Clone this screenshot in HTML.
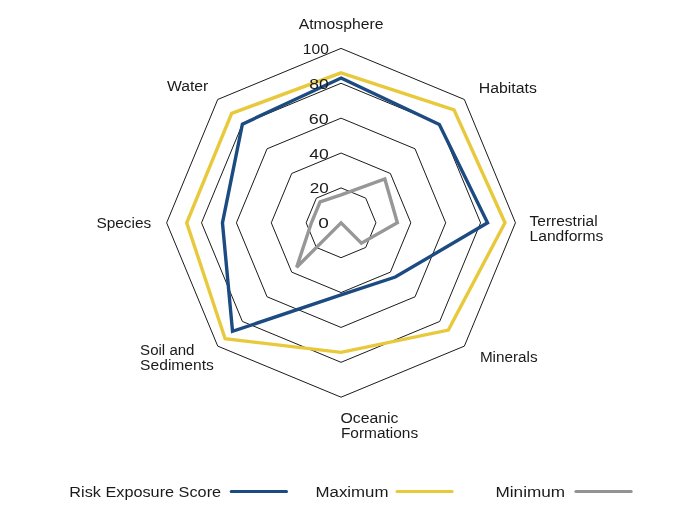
<!DOCTYPE html>
<html><head><meta charset="utf-8"><style>
html,body{margin:0;padding:0;background:#fff;}
svg{display:block;will-change:transform;}
text{font-family:"Liberation Sans",sans-serif;font-size:14px;fill:#1a1a1a;}
</style></head><body>
<svg width="700" height="512" viewBox="0 0 700 512">
<g fill="none" stroke="#1a1a1a" stroke-width="1"><polygon points="341.05,187.92 365.71,198.14 375.93,222.80 365.71,247.46 341.05,257.68 316.39,247.46 306.17,222.80 316.39,198.14" /><polygon points="341.05,153.04 390.38,173.47 410.81,222.80 390.38,272.13 341.05,292.56 291.72,272.13 271.29,222.80 291.72,173.47" /><polygon points="341.05,118.16 415.04,148.81 445.69,222.80 415.04,296.79 341.05,327.44 267.06,296.79 236.41,222.80 267.06,148.81" /><polygon points="341.05,83.28 439.71,124.14 480.57,222.80 439.71,321.46 341.05,362.32 242.39,321.46 201.53,222.80 242.39,124.14" /><polygon points="341.05,48.40 464.37,99.48 515.45,222.80 464.37,346.12 341.05,397.20 217.73,346.12 166.65,222.80 217.73,99.48" /></g>
<polygon points="341.05,72.82 454.01,109.84 504.99,222.80 448.34,330.09 341.05,352.38 225.13,338.72 186.71,222.80 231.67,113.42" fill="none" stroke="#e8c93c" stroke-width="3.4" stroke-linejoin="miter"/>
<polygon points="341.05,78.05 439.34,124.51 487.55,222.80 395.31,277.06 341.05,294.83 232.53,331.32 222.46,222.80 242.39,124.14" fill="none" stroke="#1c4b82" stroke-width="3.4" stroke-linejoin="miter"/>
<polygon points="341.05,194.90 384.83,179.02 397.38,222.80 361.40,243.15 341.05,222.80 296.66,267.19 311.40,222.80 320.09,201.84" fill="none" stroke="#979797" stroke-width="3.4" stroke-linejoin="miter"/>
<g><text x="318.2" y="228.3" textLength="10.6" lengthAdjust="spacingAndGlyphs">0</text><text x="309.8" y="193.4" textLength="19.0" lengthAdjust="spacingAndGlyphs">20</text><text x="309.3" y="158.5" textLength="19.5" lengthAdjust="spacingAndGlyphs">40</text><text x="308.8" y="123.7" textLength="20.0" lengthAdjust="spacingAndGlyphs">60</text><text x="309.3" y="88.8" textLength="19.5" lengthAdjust="spacingAndGlyphs">80</text><text x="302.8" y="53.9" textLength="26.0" lengthAdjust="spacingAndGlyphs">100</text></g>
<g><text x="298.7" y="28.8" textLength="84.7" lengthAdjust="spacingAndGlyphs">Atmosphere</text><text x="478.8" y="93.3" textLength="58.1" lengthAdjust="spacingAndGlyphs">Habitats</text><text x="529.5" y="226.4" textLength="68.1" lengthAdjust="spacingAndGlyphs">Terrestrial</text><text x="529.5" y="241.4" textLength="73.9" lengthAdjust="spacingAndGlyphs">Landforms</text><text x="479.9" y="362.4" textLength="57.7" lengthAdjust="spacingAndGlyphs">Minerals</text><text x="340.4" y="423.1" textLength="58.1" lengthAdjust="spacingAndGlyphs">Oceanic</text><text x="340.9" y="437.7" textLength="77.3" lengthAdjust="spacingAndGlyphs">Formations</text><text x="140.1" y="355.2" textLength="54.4" lengthAdjust="spacingAndGlyphs">Soil and</text><text x="140.1" y="370.3" textLength="73.8" lengthAdjust="spacingAndGlyphs">Sediments</text><text x="96.4" y="228.1" textLength="54.8" lengthAdjust="spacingAndGlyphs">Species</text><text x="166.9" y="91.4" textLength="41.5" lengthAdjust="spacingAndGlyphs">Water</text></g>
<g><text x="69.3" y="496.6" textLength="151.8" lengthAdjust="spacingAndGlyphs" font-size="16.5">Risk Exposure Score</text><line x1="231.2" y1="491.4" x2="286.5" y2="491.4" stroke="#1c4b82" stroke-width="3" stroke-linecap="round"/><text x="315.5" y="496.6" textLength="73.0" lengthAdjust="spacingAndGlyphs" font-size="16.5">Maximum</text><line x1="397.0" y1="491.4" x2="452.1" y2="491.4" stroke="#e8c93c" stroke-width="3" stroke-linecap="round"/><text x="495.5" y="496.6" textLength="69.6" lengthAdjust="spacingAndGlyphs" font-size="16.5">Minimum</text><line x1="575.9" y1="491.4" x2="631.2" y2="491.4" stroke="#939393" stroke-width="3" stroke-linecap="round"/></g>
</svg>
</body></html>
